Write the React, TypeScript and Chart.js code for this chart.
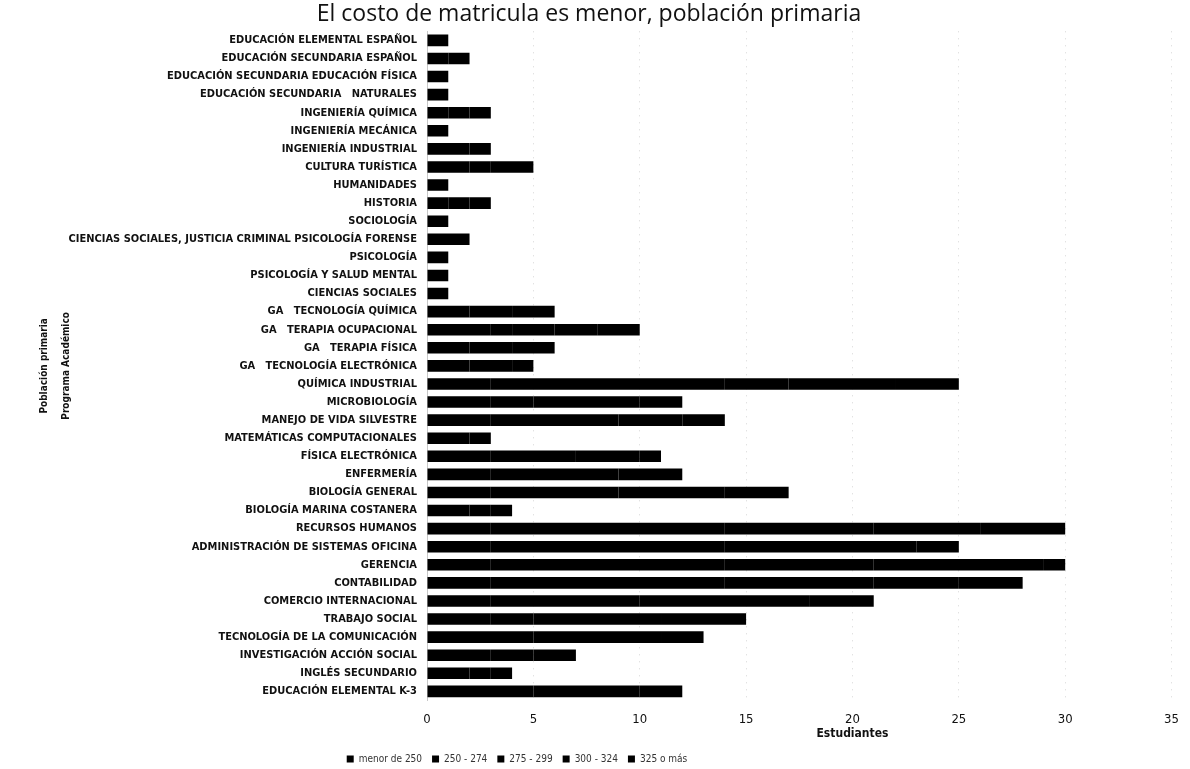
import React, { useEffect, useRef } from 'react';
import { Chart, registerables } from 'chart.js';

Chart.register(...registerables);

const chartTitle = 'El costo de matricula es menor, población primaria';
const yTitleLines = ['Población primaria', 'Programa Académico'];
const xTitle = 'Estudiantes';

const categories = [
  'EDUCACIÓN ELEMENTAL ESPAÑOL',
  'EDUCACIÓN SECUNDARIA ESPAÑOL',
  'EDUCACIÓN SECUNDARIA EDUCACIÓN FÍSICA',
  'EDUCACIÓN SECUNDARIA   NATURALES',
  'INGENIERÍA QUÍMICA',
  'INGENIERÍA MECÁNICA',
  'INGENIERÍA INDUSTRIAL',
  'CULTURA TURÍSTICA',
  'HUMANIDADES',
  'HISTORIA',
  'SOCIOLOGÍA',
  'CIENCIAS SOCIALES, JUSTICIA CRIMINAL PSICOLOGÍA FORENSE',
  'PSICOLOGÍA',
  'PSICOLOGÍA Y SALUD MENTAL',
  'CIENCIAS SOCIALES',
  'GA   TECNOLOGÍA QUÍMICA',
  'GA   TERAPIA OCUPACIONAL',
  'GA   TERAPIA FÍSICA',
  'GA   TECNOLOGÍA ELECTRÓNICA',
  'QUÍMICA INDUSTRIAL',
  'MICROBIOLOGÍA',
  'MANEJO DE VIDA SILVESTRE',
  'MATEMÁTICAS COMPUTACIONALES',
  'FÍSICA ELECTRÓNICA',
  'ENFERMERÍA',
  'BIOLOGÍA GENERAL',
  'BIOLOGÍA MARINA COSTANERA',
  'RECURSOS HUMANOS',
  'ADMINISTRACIÓN DE SISTEMAS OFICINA',
  'GERENCIA',
  'CONTABILIDAD',
  'COMERCIO INTERNACIONAL',
  'TRABAJO SOCIAL',
  'TECNOLOGÍA DE LA COMUNICACIÓN',
  'INVESTIGACIÓN ACCIÓN SOCIAL',
  'INGLÉS SECUNDARIO',
  'EDUCACIÓN ELEMENTAL K-3',
];

const seriesNames = ['menor de 250', '250 - 274', '275 - 299', '300 - 324', '325 o más'];

const menor250 = [1, 1, 1, 1, 1, 1, 2, 2, 1, 1, 1, 2, 1, 1, 1, 2, 3, 2, 2, 3, 3, 3, 2, 3, 3, 3, 2, 3, 3, 3, 3, 3, 3, 5, 3, 2, 5];
const r250_274 = [0, 1, 0, 0, 1, 0, 1, 1, 0, 1, 0, 0, 0, 0, 0, 2, 1, 2, 2, 11, 2, 6, 1, 4, 6, 6, 1, 11, 11, 11, 11, 7, 2, 6, 2, 1, 5];
const r275_299 = [0, 0, 0, 0, 1, 0, 0, 2, 0, 1, 0, 0, 0, 0, 0, 2, 2, 2, 1, 3, 5, 3, 0, 3, 3, 5, 1, 7, 9, 7, 7, 8, 6, 2, 2, 1, 2];
const r300_324 = [0, 0, 0, 0, 0, 0, 0, 0, 0, 0, 0, 0, 0, 0, 0, 0, 2, 0, 0, 5, 2, 2, 0, 1, 0, 3, 0, 5, 2, 8, 4, 3, 4, 0, 0, 0, 0];
const r325mas = [0, 0, 0, 0, 0, 0, 0, 0, 0, 0, 0, 0, 0, 0, 0, 0, 2, 0, 0, 3, 0, 0, 0, 0, 0, 0, 0, 4, 0, 1, 3, 0, 0, 0, 0, 0, 0];

const seriesValues = [menor250, r250_274, r275_299, r300_324, r325mas];

const xMin = 0;
const xMax = 35;
const xStep = 5;
const xTitleAtValue = 20;

const condensed = '"Liberation Sans Narrow", "DejaVu Sans Condensed", sans-serif';

export default function App() {
  const canvasRef = useRef<HTMLCanvasElement | null>(null);

  useEffect(() => {
    if (!canvasRef.current) return;

    const legendShift = {
      id: 'legendShift',
      afterLayout(chart: any) {
        if (chart.legend) {
          chart.legend.left -= 72;
          chart.legend.right -= 72;
        }
      },
    };

    const xTitlePlugin = {
      id: 'xTitlePlugin',
      afterDraw(chart: any) {
        const xs = chart.scales.x;
        const ctx = chart.ctx;
        ctx.save();
        ctx.font = 'bold 12px ' + condensed;
        ctx.fillStyle = '#111';
        ctx.textAlign = 'center';
        ctx.textBaseline = 'middle';
        ctx.fillText(xTitle, xs.getPixelForValue(xTitleAtValue), xs.bottom - 10);
        ctx.restore();
      },
    };

    const chart = new Chart(canvasRef.current, {
      type: 'bar',
      data: {
        labels: categories,
        datasets: seriesNames.map((name, i) => ({
          label: name,
          data: seriesValues[i],
          backgroundColor: '#000000',
          borderWidth: 0,
          barPercentage: 0.64,
          categoryPercentage: 1,
        })),
      },
      options: {
        indexAxis: 'y',
        animation: false,
        responsive: true,
        maintainAspectRatio: false,
        layout: { padding: { left: 0, right: 12, top: 0, bottom: -5 } },
        plugins: {
          title: {
            display: true,
            text: chartTitle,
            color: '#111',
            font: { family: '"Open Sans", sans-serif', size: 23, weight: 'normal', lineHeight: 1.1 },
            padding: { top: 2, bottom: 4 },
          },
          legend: {
            display: true,
            position: 'bottom',
            labels: {
              color: '#333',
              boxWidth: 7,
              boxHeight: 7,
              padding: 10,
              font: { family: condensed, size: 10 },
            },
          },
          tooltip: { enabled: false },
        },
        scales: {
          x: {
            stacked: true,
            min: xMin,
            max: xMax,
            ticks: {
              stepSize: xStep,
              color: '#111',
              padding: 11,
              font: { family: condensed, size: 13 },
            },
            grid: {
              display: true,
              drawTicks: false,
              color: '#d6d6d6',
              lineWidth: 1,
            },
            border: { display: false, dash: [1, 6] },
            afterFit(scale: any) {
              scale.height += 6;
            },
          },
          y: {
            stacked: true,
            ticks: {
              color: '#111',
              padding: 10,
              autoSkip: false,
              font: { family: condensed, size: 11, weight: 'bold' },
            },
            grid: { display: false, drawTicks: false },
            border: { display: true, color: '#c8c8c8', dash: [1, 4] },
            title: {
              display: true,
              text: yTitleLines,
              color: '#111',
              font: { family: condensed, size: 10, weight: 'bold', lineHeight: 2.2 },
              padding: { top: 33, bottom: 0 },
            },
            afterFit(scale: any) {
              scale.width = 427;
            },
          },
        },
      },
      plugins: [legendShift, xTitlePlugin],
    });

    (chart.options.scales as any).x.grid.borderDash = [1, 6];
    chart.update();

    return () => chart.destroy();
  }, []);

  return (
    <div style={{ position: 'absolute', left: 0, top: 0, width: 1190, height: 769, background: '#fff' }}>
      <canvas ref={canvasRef} />
    </div>
  );
}
